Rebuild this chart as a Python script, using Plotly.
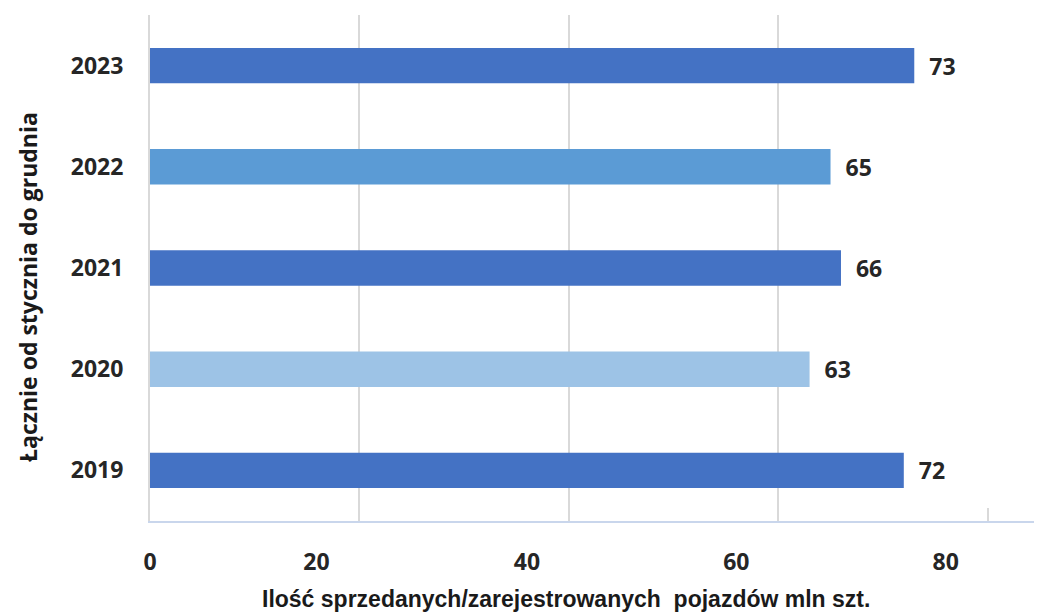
import plotly.graph_objects as go

years = ["2019", "2020", "2021", "2022", "2023"]
values = [72, 63, 66, 65, 73]
bar_colors = ["#4472C4", "#9DC3E6", "#4472C4", "#5B9BD5", "#4472C4"]
grid_ticks = [0, 20, 40, 60]
short_ticks = [80]
label_positions = [0, 15.9, 36, 56, 76]
label_texts = ["0", "20", "40", "60", "80"]
x_title = "Ilość sprzedanych/zarejestrowanych  pojazdów mln szt."
y_title = "Łącznie od stycznia do grudnia"

x_max = 85.2
tick_font = dict(family="Open Sans", size=23, color="#262626", weight="bold")

fig = go.Figure()
fig.add_trace(go.Bar(
    x=values, y=years, orientation="h",
    marker=dict(color=bar_colors, line=dict(width=0)),
    text=values, texttemplate="\u00a0\u00a0<b>%{x}</b>",
    textposition="outside", constraintext="none", cliponaxis=False,
    outsidetextfont=dict(family="Open Sans", size=23, color="#262626"),
    hoverinfo="skip",
))
fig.add_trace(go.Scatter(
    x=values, y=years, xaxis="x2", mode="markers",
    marker=dict(opacity=0), hoverinfo="skip", showlegend=False,
))
fig.add_trace(go.Scatter(
    x=values, y=years, xaxis="x3", mode="markers",
    marker=dict(opacity=0), hoverinfo="skip", showlegend=False,
))

fig.add_annotation(
    text=f"<b>{x_title}</b>", xref="paper", yref="paper", x=0, y=0,
    xanchor="center", yanchor="bottom", xshift=416, yshift=-93,
    showarrow=False, font=dict(family="Liberation Sans", size=23, color="#1a1a1a"),
)
fig.add_annotation(
    text=f"<b>{y_title}</b>", xref="paper", yref="paper", x=0, y=0.4625,
    xanchor="center", yanchor="middle", xshift=-122, textangle=-90,
    showarrow=False, font=dict(family="Open Sans", size=23, color="#1a1a1a"),
)

fig.update_layout(
    width=1034, height=607,
    margin=dict(l=142, r=0, t=7, b=94),
    paper_bgcolor="white", plot_bgcolor="white",
    showlegend=False,
    bargap=0.65,
    xaxis=dict(
        range=[0, x_max], tickmode="array", tickvals=grid_ticks,
        showticklabels=False, showgrid=True, gridcolor="#d9d9d9", gridwidth=2,
        zeroline=False, showline=True, linecolor="#c9d6ec", linewidth=2,
        ticks="", automargin=False,
    ),
    xaxis3=dict(
        overlaying="x", side="bottom", anchor="y", range=[0, x_max],
        tickmode="array", tickvals=short_ticks, showticklabels=False,
        showgrid=False, zeroline=False, showline=False, automargin=False,
        ticks="inside", ticklen=13, tickcolor="#d9d9d9", tickwidth=2,
    ),
    xaxis2=dict(
        overlaying="x", side="bottom", anchor="y", range=[0, x_max],
        tickmode="array", tickvals=label_positions, ticktext=label_texts,
        showgrid=False, zeroline=False, showline=False, automargin=False,
        ticks="outside", ticklen=20, tickcolor="rgba(0,0,0,0)",
        tickfont=tick_font,
    ),
    yaxis=dict(
        type="category", categoryorder="array", categoryarray=years,
        tickfont=tick_font, ticks="outside", ticklen=20, tickcolor="rgba(0,0,0,0)",
        showgrid=False, zeroline=False, showline=True, linecolor="#d9d9d9", linewidth=2,
        automargin=False,
    ),
)

fig.write_html("out.html")
